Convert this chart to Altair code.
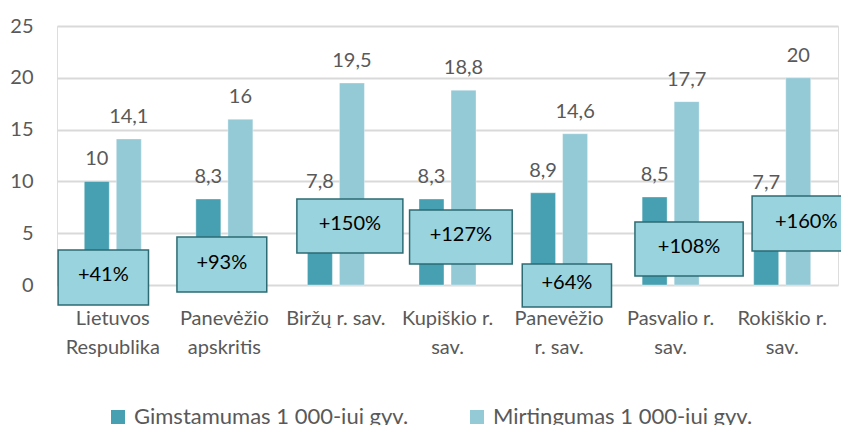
import altair as alt
import pandas as pd

categories = ["Lietuvos\nRespublika", "Panevėžio\napskritis", "Biržų r. sav.", "Kupiškio r.\nsav.",
              "Panevėžio\nr. sav.", "Pasvalio r.\nsav.", "Rokiškio r.\nsav."]
series = ["Gimstamumas 1 000-iui gyv.", "Mirtingumas 1 000-iui gyv."]
birth = [10, 8.3, 7.8, 8.3, 8.9, 8.5, 7.7]
death = [14.1, 16, 19.5, 18.8, 14.6, 17.7, 20]
birth_labels = ["10", "8,3", "7,8", "8,3", "8,9", "8,5", "7,7"]
death_labels = ["14,1", "16", "19,5", "18,8", "14,6", "17,7", "20"]

# annotation boxes (category-index units for x, data units for y)
box_text = ["+41%", "+93%", "+150%", "+127%", "+64%", "+108%", "+160%"]
box_x0 = [0.01, 1.075, 2.15, 3.16, 4.17, 5.18, 6.23]
box_x1 = [0.82, 1.88, 3.10, 4.08, 4.97, 6.15, 7.20]
box_y0 = [-1.93, -0.68, 3.09, 2.03, -2.12, 0.87, 3.28]
box_y1 = [3.38, 4.63, 8.30, 7.24, 2.03, 6.08, 8.59]

rows = []
for i, c in enumerate(categories):
    rows.append({"cat": c, "series": series[0], "value": birth[i], "label": birth_labels[i]})
    rows.append({"cat": c, "series": series[1], "value": death[i], "label": death_labels[i]})
df = pd.DataFrame(rows)

boxes = pd.DataFrame({
    "text": box_text, "x0": box_x0, "x1": box_x1, "y0": box_y0, "y1": box_y1,
})
boxes["xc"] = (boxes["x0"] + boxes["x1"]) / 2
boxes["yc"] = (boxes["y0"] + boxes["y1"]) / 2

FONT = "Lato"
GREY = "#595959"

xband = alt.X("cat:N", sort=categories, title=None,
              scale=alt.Scale(paddingInner=0.489, paddingOuter=0.2445),
              axis=alt.Axis(labelAngle=0, labelFont=FONT, labelFontSize=20, labelColor=GREY,
                            labelExpr="split(datum.label, '\\n')", labelLineHeight=29,
                            labelPadding=23, ticks=False, domain=False, labelLimit=200))
yq = alt.Y("value:Q", title=None,
           scale=alt.Scale(domain=[0, 25], nice=False),
           axis=alt.Axis(values=[0, 5, 10, 15, 20, 25], labelFont=FONT, labelFontSize=20,
                         labelColor=GREY, labelPadding=24, ticks=False, domain=False,
                         grid=True, gridColor="#D9D9D9", gridWidth=2))
xoff = alt.XOffset("series:N", sort=series, scale=alt.Scale(paddingInner=0.22, paddingOuter=0))

bars = alt.Chart(df).mark_bar(stroke="white", strokeWidth=0.6, strokeOpacity=0.6).encode(
    x=xband, y=yq, xOffset=xoff,
    color=alt.Color("series:N", sort=series,
                    scale=alt.Scale(domain=series, range=["#46A0B1", "#94C9D6"]),
                    legend=alt.Legend(title=None, orient="none", legendX=50, legendY=380,
                                      direction="horizontal", symbolType="square",
                                      symbolSize=196, symbolStrokeWidth=0,
                                      labelFont=FONT, labelFontSize=22, labelColor=GREY,
                                      labelOffset=5, columnPadding=57, padding=0,
                                      labelLimit=400)),
)

labels = alt.Chart(df).mark_text(font=FONT, fontSize=20, color=GREY, baseline="alphabetic",
                                 dy=-16).encode(
    x=xband, y=yq, xOffset=xoff, text="label:N",
)

base = alt.layer(bars, labels)

xq = alt.X("x0:Q", scale=alt.Scale(domain=[0, 7], nice=False, zero=False), axis=None)
yb = alt.Y("y0:Q", scale=alt.Scale(domain=[0, 25], nice=False), axis=None)

rects = alt.Chart(boxes).mark_rect(fill="#98D3DE", stroke="#2D6B74", strokeWidth=1.5,
                                   clip=False).encode(
    x=xq, x2="x1:Q", y=yb, y2="y1:Q",
)
btext = alt.Chart(boxes).mark_text(font=FONT, fontSize=20, color="#000000", dy=-2).encode(
    x=alt.X("xc:Q", scale=alt.Scale(domain=[0, 7], nice=False, zero=False), axis=None),
    y=alt.Y("yc:Q", scale=alt.Scale(domain=[0, 25], nice=False), axis=None),
    text="text:N",
)

annot = alt.layer(rects, btext)

chart = alt.layer(base, annot).resolve_scale(x="independent", y="independent").properties(
    width=781, height=259,
    autosize=alt.AutoSizeParams(type="none"),
    padding={"left": 49, "top": 18, "right": 3, "bottom": 150},
).configure_view(stroke=None).configure(background="white")

chart.save("out.html", embed_options={"renderer": "svg", "actions": False})
